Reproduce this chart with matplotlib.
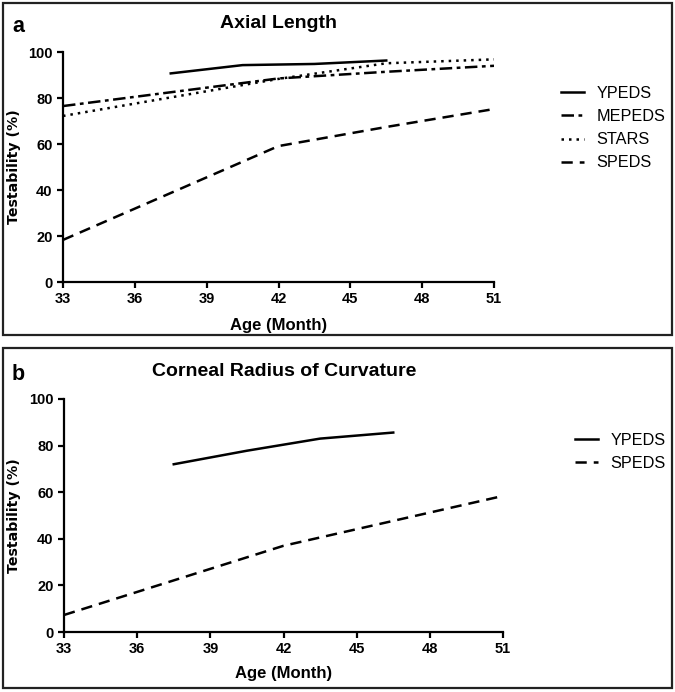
import matplotlib
matplotlib.use("Agg")
import matplotlib.pyplot as plt
from matplotlib.patches import Rectangle

plt.rcParams['font.family'] = ['Liberation Sans', 'DejaVu Sans']

# ---- Data ----
age_ticks = [33, 36, 39, 42, 45, 48, 51]
y_ticks = [0, 20, 40, 60, 80, 100]

# Panel a: Axial Length
a_ypeds_x = [37.5, 40.5, 43.5, 46.5]
a_ypeds_y = [90.7, 94.3, 94.8, 96.3]
a_mepeds_x = [33, 42, 46.5, 51]
a_mepeds_y = [76.5, 88.5, 91.4, 94.0]
a_stars_x = [33, 42, 46.5, 51]
a_stars_y = [72.2, 88.3, 95.1, 96.8]
a_speds_x = [33, 42, 46.5, 51]
a_speds_y = [18.3, 59.1, 67.4, 75.2]

# Panel b: Corneal Radius of Curvature
b_ypeds_x = [37.5, 40.5, 43.5, 46.5]
b_ypeds_y = [72.0, 77.8, 83.0, 85.6]
b_speds_x = [33, 42, 51]
b_speds_y = [7.3, 37.0, 58.4]

W, H = 675, 692
fig = plt.figure(figsize=(W / 100, H / 100), dpi=100)

def fx(px):
    return px / W

def fy(py):
    return 1 - py / H

# panel borders
for (x0, y0, x1, y1) in [(3, 3, 672, 335), (3, 348, 672, 688)]:
    fig.patches.append(Rectangle((fx(x0), fy(y1)), fx(x1) - fx(x0), fy(y0) - fy(y1),
                                 transform=fig.transFigure, fill=False,
                                 edgecolor='#222222', linewidth=1.6))

def style_axes(ax, left_px, bottom_px, width_px, height_px, xlab_top_px):
    for s in ['top', 'right']:
        ax.spines[s].set_visible(False)
    for s in ['left', 'bottom']:
        ax.spines[s].set_linewidth(1.6)
    ax.set_xlim(33, 51)
    ax.set_ylim(0, 100)
    ax.set_xticks(age_ticks)
    ax.set_yticks(y_ticks)
    ax.tick_params(direction='out', length=4, width=1.6, labelsize=10.5, pad=3.5)
    for lab in ax.get_xticklabels() + ax.get_yticklabels():
        lab.set_fontweight('bold')
    ax.set_xlabel('Age (Month)', fontsize=12, fontweight='bold')
    ax.set_ylabel('Testability (%)', fontsize=10.2, fontweight='bold',
                  family=['DejaVu Sans'])
    ax.yaxis.set_label_coords((21 - left_px) / width_px, 0.5)
    ax.xaxis.set_label_coords(0.5, -(xlab_top_px - bottom_px) / height_px)

lw = 1.8
dash = (0, (4.5, 2.8))
dashdot = (0, (5, 1.8, 1.5, 1.8))
dotted = (0, (1, 2))

# Panel a
ax1 = fig.add_axes([fx(63), fy(282), fx(494) - fx(63), fy(52) - fy(282)])
ax1.plot(a_ypeds_x, a_ypeds_y, color='black', lw=lw, linestyle='-', label='YPEDS')
ax1.plot(a_mepeds_x, a_mepeds_y, color='black', lw=lw, linestyle=dashdot, label='MEPEDS')
ax1.plot(a_stars_x, a_stars_y, color='black', lw=lw, linestyle=dotted, label='STARS')
ax1.plot(a_speds_x, a_speds_y, color='black', lw=lw, linestyle=dash, label='SPEDS')
style_axes(ax1, 63, 282, 431, 230, 318)
ax1.legend(loc='upper left', bbox_to_anchor=(fx(561), fy(86)), bbox_transform=fig.transFigure,
           frameon=False, fontsize=11.7, handlelength=1.4, handletextpad=0.8,
           labelspacing=0.5, borderpad=0, borderaxespad=0)
fig.text(fx(278), fy(24), 'Axial Length', fontsize=14, fontweight='bold', ha='center', va='center')
fig.text(fx(12), fy(27), 'a', fontsize=15.5, fontweight='bold', ha='left', va='center')

# Panel b
ax2 = fig.add_axes([fx(64), fy(632), fx(503) - fx(64), fy(399) - fy(632)])
ax2.plot(b_ypeds_x, b_ypeds_y, color='black', lw=lw, linestyle='-', label='YPEDS')
ax2.plot(b_speds_x, b_speds_y, color='black', lw=lw, linestyle=dash, label='SPEDS')
style_axes(ax2, 64, 632, 439, 233, 666)
ax2.legend(loc='upper left', bbox_to_anchor=(fx(575), fy(433)), bbox_transform=fig.transFigure,
           frameon=False, fontsize=11.7, handlelength=1.4, handletextpad=0.8,
           labelspacing=0.5, borderpad=0, borderaxespad=0)
fig.text(fx(284), fy(371), 'Corneal Radius of Curvature', fontsize=14, fontweight='bold',
         ha='center', va='center')
fig.text(fx(12), fy(374), 'b', fontsize=15.5, fontweight='bold', ha='left', va='center')

fig.savefig('out.png', dpi=100)
